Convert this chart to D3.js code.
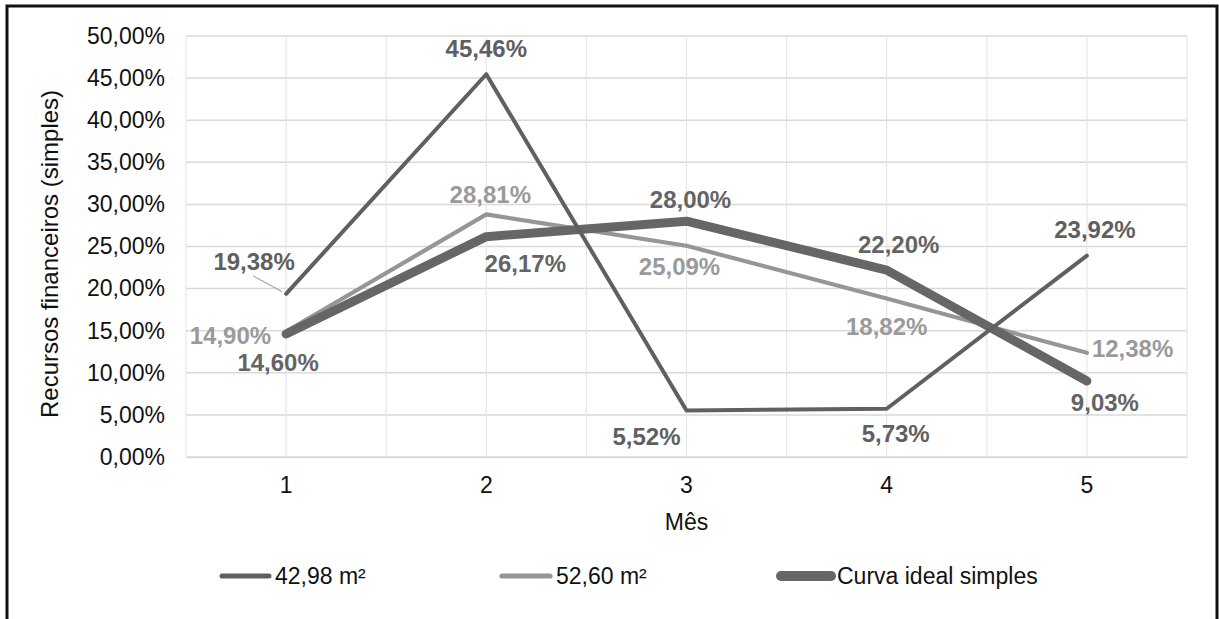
<!DOCTYPE html>
<html>
<head>
<meta charset="utf-8">
<script src="https://cdn.jsdelivr.net/npm/d3@7"></script>
<style>
  html, body { margin: 0; padding: 0; background: #fff; }
  svg { display: block; font-family: "Liberation Sans", Arial, sans-serif; }
</style>
</head>
<body>
<svg id="chart" width="1219" height="619"></svg>
<script>
// Monthly share of financial resources (simple) per scenario
const months = [1, 2, 3, 4, 5];
const serie4298 = [19.38, 45.46, 5.52, 5.73, 23.92];
const serie5260 = [14.90, 28.81, 25.09, 18.82, 12.38];
const curvaIdeal = [14.60, 26.17, 28.00, 22.20, 9.03];
const seriesNames = ["42,98 m²", "52,60 m²", "Curva ideal simples"];
const yTicks = [0, 5, 10, 15, 20, 25, 30, 35, 40, 45, 50];

// Label nudges (dx, dy, anchor) relative to each point
const labelPlace = [
  [[-32, -32, "middle"], [0, -26, "middle"], [-40, 26, "middle"], [9, 25, "middle"], [8, -26, "middle"]],
  [[-15, 4, "end"], [4, -20, "middle"], [-7, 21, "middle"], [0, 28, "middle"], [5, -4, "start"]],
  [[-8, 28, "middle"], [39, 27, "middle"], [4, -22, "middle"], [12, -26, "middle"], [18, 22, "middle"]]
];

const styles = [
  { stroke: "#606060", width: 4, label: "#5f5f5f" },
  { stroke: "#969696", width: 4.2, label: "#9a9a9a" },
  { stroke: "#666666", width: 9, label: "#646464" }
];

const fmt = v => d3.format(".2f")(v).replace(".", ",") + "%";

const svg = d3.select("#chart");
const plot = { left: 186, right: 1187, top: 36, bottom: 457 };

// Outer frame
svg.append("rect")
  .attr("x", 7).attr("y", 6)
  .attr("width", 1210).attr("height", 640)
  .attr("fill", "none").attr("stroke", "#111").attr("stroke-width", 3);

const x = d3.scaleBand().domain(months).range([plot.left, plot.right]);
const xc = m => x(m) + x.bandwidth() / 2;
const y = d3.scaleLinear().domain([0, 50]).range([plot.bottom, plot.top]);

// Gridlines
const grid = svg.append("g");
grid.selectAll("line.h").data(yTicks).join("line")
  .attr("x1", plot.left).attr("x2", plot.right)
  .attr("y1", d => y(d)).attr("y2", d => y(d))
  .attr("stroke", "#d9d9d9").attr("stroke-width", 1.5);
const vx = [];
months.forEach(m => { vx.push(x(m)); vx.push(xc(m)); });
vx.push(plot.right);
grid.selectAll("line.v").data(vx).join("line")
  .attr("x1", d => d).attr("x2", d => d)
  .attr("y1", plot.top).attr("y2", plot.bottom)
  .attr("stroke", "#e6e6e6").attr("stroke-width", 1.2);

// Y axis
const yAxis = d3.axisLeft(y).tickValues(yTicks).tickSize(0).tickPadding(21)
  .tickFormat(fmt);
const gy = svg.append("g").attr("transform", `translate(${plot.left},0)`).call(yAxis);
gy.select(".domain").remove();
gy.selectAll("text").attr("font-size", 23).attr("fill", "#111")
  .attr("font-family", "Liberation Sans, Arial, sans-serif");

// X axis
const xAxis = d3.axisBottom(x).tickSize(0).tickPadding(20);
const gx = svg.append("g").attr("transform", `translate(0,${plot.bottom})`).call(xAxis);
gx.select(".domain").attr("stroke", "#d9d9d9").attr("stroke-width", 1.5);
gx.selectAll("text").attr("font-size", 23).attr("fill", "#111")
  .attr("font-family", "Liberation Sans, Arial, sans-serif");

// Axis titles
svg.append("text")
  .attr("transform", `translate(58,254) rotate(-90)`)
  .attr("text-anchor", "middle")
  .attr("font-size", 24).attr("fill", "#111")
  .text("Recursos financeiros (simples)");
svg.append("text")
  .attr("x", xc(3)).attr("y", 530)
  .attr("text-anchor", "middle")
  .attr("font-size", 23).attr("fill", "#111")
  .text("Mês");

// Lines
const allSeries = [serie4298, serie5260, curvaIdeal];
const line = d3.line().x((d, i) => xc(months[i])).y(d => y(d));
const drawOrder = [1, 2, 0];
drawOrder.forEach(si => {
  svg.append("path")
    .datum(allSeries[si])
    .attr("d", line)
    .attr("fill", "none")
    .attr("stroke", styles[si].stroke)
    .attr("stroke-width", styles[si].width)
    .attr("stroke-linejoin", "round")
    .attr("stroke-linecap", "round");
});

// Leader line for the first label of 42,98 m²
svg.append("line")
  .attr("x1", xc(1) - 33).attr("y1", y(serie4298[0]) - 18)
  .attr("x2", xc(1) - 4).attr("y2", y(serie4298[0]) - 2)
  .attr("stroke", "#a6a6a6").attr("stroke-width", 1.2);

// Data labels
allSeries.forEach((vals, si) => {
  svg.append("g").selectAll("text").data(vals).join("text")
    .attr("x", (d, i) => xc(months[i]) + labelPlace[si][i][0])
    .attr("y", (d, i) => y(d) + labelPlace[si][i][1])
    .attr("text-anchor", (d, i) => labelPlace[si][i][2])
    .attr("dominant-baseline", "central")
    .attr("font-size", 24).attr("font-weight", "bold")
    .attr("fill", styles[si].label)
    .text(d => fmt(d));
});

// Legend
const legendItems = [
  { x: 219, len: 53 },
  { x: 499, len: 54 },
  { x: 778, len: 56 }
];
const lg = svg.append("g");
legendItems.forEach((it, si) => {
  lg.append("line")
    .attr("x1", it.x + 3).attr("x2", it.x + it.len - 3)
    .attr("y1", 576).attr("y2", 576)
    .attr("stroke", styles[si].stroke)
    .attr("stroke-width", styles[si].width + 1)
    .attr("stroke-linecap", "round");
  lg.append("text")
    .attr("x", it.x + it.len + 3).attr("y", 576)
    .attr("dominant-baseline", "central")
    .attr("font-size", 23).attr("fill", "#111")
    .text(seriesNames[si]);
});
</script>
</body>
</html>
